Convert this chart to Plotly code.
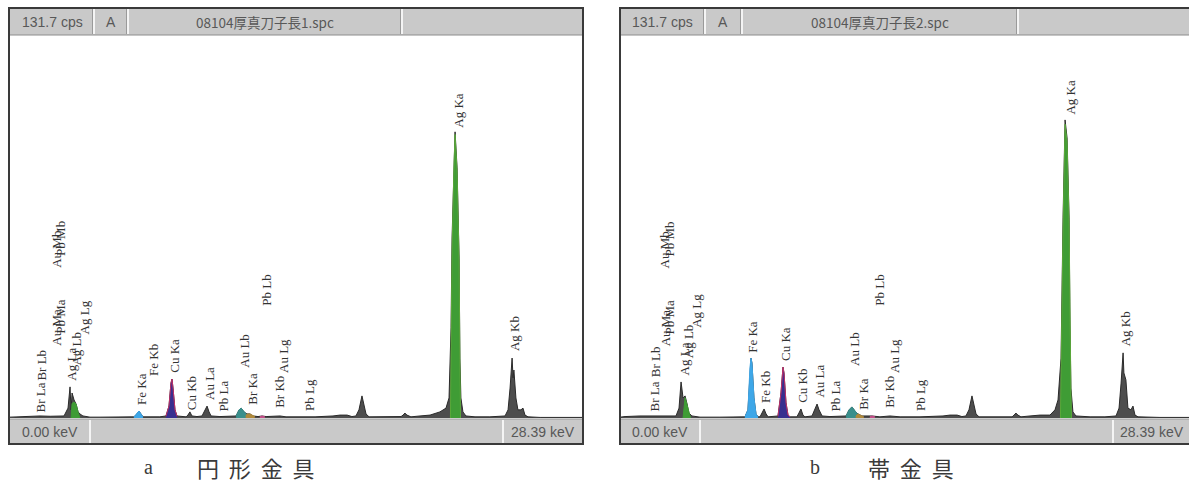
import plotly.graph_objects as go

W, H = 1189, 487

# ---------------- spectrum data (keV, cps) ----------------
energy_a = [0, 0.5, 0.99, 1.49, 1.99, 2.48, 2.68, 2.88, 2.98, 3.03, 3.08, 3.18, 3.28, 3.38, 3.47, 3.62,
            3.97, 4.47, 4.96, 5.46, 5.96, 6.15, 6.30, 6.40, 6.50, 6.60, 6.95, 7.44, 7.74, 7.89, 7.99,
            8.04, 8.09, 8.19, 8.29, 8.54, 8.74, 8.83, 8.93, 9.03, 9.28, 9.53, 9.68, 9.78, 9.88, 9.98,
            10.42, 10.92, 11.22, 11.37, 11.47, 11.61, 11.76, 11.91, 12.06, 12.31, 12.51, 12.71, 13.00,
            13.40, 13.70, 14.39, 15.14, 16.03, 16.38, 16.73, 16.97, 17.17, 17.32, 17.47, 17.57, 17.67,
            17.82, 18.36, 19.11, 19.41, 19.51, 19.60, 19.70, 19.90, 20.35, 20.85, 21.34, 21.64, 21.79,
            21.89, 21.94, 22.04, 22.09, 22.19, 22.29, 22.33, 22.38, 22.48, 22.63, 23.08, 23.82, 24.57,
            24.72, 24.82, 24.92, 24.97, 25.01, 25.11, 25.21, 25.36, 25.46, 25.56, 25.71, 26.31, 27.30, 28.39]
cps_a = [0.3, 0.5, 0.7, 0.7, 0.6, 0.7, 0.7, 3.4, 10.7, 2.8, 8.6, 6.2, 4.8, 2.1, 1.4, 0.7,
         0.3, 0.3, 0.3, 0.3, 0.4, 0.4, 1.4, 2.4, 1.4, 0.4, 0.4, 0.4, 0.7, 4.1, 12.0,
         13.4, 10.3, 2.8, 0.7, 0.4, 0.4, 1.0, 2.1, 0.7, 0.5, 0.7, 2.8, 4.1, 2.1, 0.7,
         0.5, 0.5, 0.7, 2.8, 3.4, 2.1, 1.4, 1.4, 0.7, 0.5, 0.7, 0.5, 0.5,
         0.7, 0.4, 0.4, 0.4, 0.7, 1.0, 1.0, 0.5, 0.7, 2.8, 7.6, 4.8, 1.4,
         0.4, 0.4, 0.4, 0.5, 1.0, 1.7, 1.0, 0.4, 0.7, 1.0, 2.1, 3.4, 6.9,
         31.0, 61.9, 89.4, 98.4, 86.0, 55.0, 20.6, 6.9, 2.1, 0.7, 0.4, 0.4, 0.7,
         2.8, 10.3, 20.6, 13.8, 16.5, 6.9, 2.8, 2.8, 3.4, 1.0, 0.4, 0.2, 0.2, 0.2]

energy_b = [0, 0.25, 0.99, 1.99, 2.48, 2.78, 2.93, 3.03, 3.13, 3.23, 3.33, 3.42, 3.57, 3.97, 4.96,
            5.96, 6.20, 6.35, 6.45, 6.50, 6.55, 6.65, 6.75, 6.85, 6.95, 7.05, 7.15, 7.25, 7.35, 7.84,
            7.99, 8.09, 8.14, 8.24, 8.34, 8.44, 8.78, 8.88, 8.98, 9.08, 9.18, 9.53, 9.68, 9.78, 9.88,
            10.03, 10.42, 10.92, 11.22, 11.37, 11.51, 11.66, 11.81, 12.01, 12.51, 12.90, 13.40, 13.90,
            14.89, 16.03, 16.38, 16.73, 16.97, 17.17, 17.32, 17.47, 17.57, 17.67, 17.82, 18.36, 19.11,
            19.46, 19.56, 19.65, 19.75, 19.90, 20.35, 20.85, 21.34, 21.59, 21.74, 21.89, 21.99, 22.09,
            22.19, 22.29, 22.33, 22.38, 22.48, 22.63, 23.33, 24.07, 24.62, 24.77, 24.87, 24.97, 25.01,
            25.11, 25.21, 25.36, 25.46, 25.56, 25.71, 26.80, 28.24]
cps_b = [0.3, 0.5, 0.7, 0.7, 0.7, 0.7, 3.4, 12.4, 6.9, 7.6, 4.8, 1.7, 0.7, 0.3, 0.3,
         0.3, 0.4, 2.8, 17.2, 20.6, 18.9, 6.9, 1.4, 0.4, 0.4, 1.7, 3.1, 1.4, 0.4, 0.7,
         8.6, 17.5, 15.5, 5.2, 1.0, 0.4, 0.4, 1.7, 3.1, 1.0, 0.4, 0.7, 3.4, 4.8, 2.8,
         0.7, 0.5, 0.5, 0.7, 2.8, 3.8, 2.4, 1.4, 0.7, 0.7, 0.4, 0.7, 0.4,
         0.4, 0.7, 1.0, 1.0, 0.5, 0.7, 2.8, 7.6, 4.8, 1.4, 0.4, 0.4, 0.4,
         0.4, 1.0, 1.7, 1.0, 0.4, 0.7, 1.0, 1.0, 2.8, 6.2, 20.6, 68.8, 102.5,
         96.3, 68.8, 34.4, 10.3, 2.1, 0.7, 0.4, 0.4, 0.7, 3.4, 12.0, 22.4, 15.5,
         13.1, 3.4, 2.8, 4.1, 1.0, 0.4, 0.2, 0.2]

# ---------------- coloured element peaks ----------------
agL_a_e = [3.03, 3.08, 3.18, 3.28, 3.38, 3.47]
agL_a_c = [0, 5.0, 5.5, 4.8, 2.0, 0]
feKa_a_e = [6.15, 6.30, 6.40, 6.50, 6.60]
feKa_a_c = [0.3, 1.4, 2.4, 1.4, 0.3]
cuKa_a_e = [7.74, 7.89, 7.99, 8.04, 8.09, 8.19, 8.29]
cuKa_a_c = [0.6, 4.1, 12.0, 13.4, 10.3, 2.8, 0.6]
auLb_a_e = [11.22, 11.37, 11.47, 11.61, 11.76]
auLb_a_c = [0.6, 2.8, 3.4, 2.1, 1.0]
brKa_a_e = [11.70, 11.76, 11.91, 12.06, 12.15]
brKa_a_c = [0.6, 1.3, 1.4, 0.7, 0.5]
pbLb_a_e = [12.40, 12.51, 12.65]
pbLb_a_c = [0.4, 0.7, 0.4]
agKa_a_e = [21.86, 21.89, 21.94, 22.04, 22.09, 22.19, 22.29, 22.33, 22.36]
agKa_a_c = [0, 28, 58, 88, 97.5, 85, 54, 20, 0]

agL_b_e = [3.13, 3.18, 3.23, 3.33, 3.42, 3.50]
agL_b_c = [0, 5.0, 7.0, 4.5, 1.5, 0]
feKa_b_e = [6.20, 6.35, 6.45, 6.50, 6.55, 6.65, 6.75, 6.85]
feKa_b_c = [0.3, 2.8, 17.2, 20.6, 18.9, 6.9, 1.4, 0.3]
cuKa_b_e = [7.84, 7.99, 8.09, 8.14, 8.24, 8.34, 8.44]
cuKa_b_c = [0.6, 8.6, 17.5, 15.5, 5.2, 1.0, 0.4]
auLb_b_e = [11.22, 11.37, 11.51, 11.66, 11.81]
auLb_b_c = [0.6, 2.8, 3.8, 2.4, 1.2]
brKa_b_e = [11.70, 11.81, 12.01, 12.10]
brKa_b_c = [0.6, 1.4, 0.7, 0.4]
pbLb_b_e = [12.40, 12.51, 12.65]
pbLb_b_c = [0.4, 0.7, 0.4]
agKa_b_e = [21.86, 21.89, 21.99, 22.09, 22.19, 22.29, 22.33, 22.38, 22.41]
agKa_b_c = [0, 18, 66, 101, 95, 67, 33, 9, 0]

# ---------------- peak labels ----------------
lab_a_text = ["Br La", "Br Lb", "Au Ma", "Pb Ma", "Au Mb", "Pb Mb", "Ag La", "Ag Lb", "Ag Lg",
              "Fe Ka", "Fe Kb", "Cu Ka", "Cu Kb", "Au La", "Pb La", "Au Lb", "Br Ka", "Pb Lb",
              "Br Kb", "Au Lg", "Pb Lg", "Ag Ka", "Ag Kb"]
lab_a_e = [1.44, 1.49, 2.20, 2.40, 2.20, 2.40, 2.98, 3.20, 3.60,
           6.45, 7.05, 8.08, 8.95, 9.80, 10.52, 11.50, 11.95, 12.61,
           13.30, 13.50, 14.74, 22.19, 24.95]
lab_a_c = [1.2, 12.0, 24.1, 28.2, 50.9, 55.0, 12.0, 17.5, 27.9,
           3.8, 13.8, 14.8, 2.1, 5.5, 1.7, 16.5, 3.8, 37.8,
           2.8, 14.8, 1.7, 99.0, 22.4]

lab_b_text = lab_a_text
lab_b_e = [1.59, 1.64, 2.13, 2.38, 2.13, 2.38, 3.08, 3.28, 3.72,
           6.50, 7.15, 8.09, 8.98, 9.78, 10.62, 11.56, 12.01, 12.76,
           13.30, 13.55, 14.79, 22.24, 25.01]
lab_b_c = [1.6, 13.2, 24.1, 28.2, 50.9, 55.0, 13.8, 19.9, 30.3,
           21.7, 4.5, 18.9, 4.5, 6.2, 1.7, 17.2, 2.1, 37.8,
           2.8, 14.8, 1.7, 103.5, 24.1]

file_a = "08104厚真刀子長1.spc"
file_b = "08104厚真刀子長2.spc"
full_scale = "131.7 cps"
e_min_label = "0.00 keV"
e_max_label = "28.39 keV"
NB = "\u00a0\u00a0"
caption_a = ("a", NB.join("円形金具"))
caption_b = ("b", NB.join("帯金具"))

# ---------------- figure ----------------
def px(x):
    return x / W

def py(y):
    return 1 - y / H

SPEC_FILL = "#4d4d4d"
SPEC_LINE = "#2b2b2b"
GREEN = "#3f9c35"
FEBLUE = "#3ea7e8"
CUBLUE = "#372f8f"
TEAL = "#3a8f8c"
BROWN = "#b08a3c"
PINK = "#c44f8a"

fig = go.Figure()

def add_panel(xa, ya, e, c, overlays):
    fig.add_trace(go.Scatter(x=e, y=c, mode="lines", fill="tozeroy", fillcolor=SPEC_FILL,
                             line=dict(color=SPEC_LINE, width=1), xaxis=xa, yaxis=ya,
                             hoverinfo="skip", showlegend=False))
    for ee, cc, col, lc in overlays:
        fig.add_trace(go.Scatter(x=ee, y=cc, mode="lines", fill="tozeroy", fillcolor=col,
                                 line=dict(color=lc, width=1), xaxis=xa, yaxis=ya,
                                 hoverinfo="skip", showlegend=False))

add_panel("x", "y", energy_a, cps_a, [
    (agL_a_e, agL_a_c, GREEN, GREEN),
    (feKa_a_e, feKa_a_c, FEBLUE, FEBLUE),
    (cuKa_a_e, cuKa_a_c, CUBLUE, "#c0306a"),
    (auLb_a_e, auLb_a_c, TEAL, TEAL),
    (brKa_a_e, brKa_a_c, BROWN, BROWN),
    (pbLb_a_e, pbLb_a_c, PINK, PINK),
    (agKa_a_e, agKa_a_c, GREEN, "#5aa83a"),
])
add_panel("x2", "y2", energy_b, cps_b, [
    (agL_b_e, agL_b_c, GREEN, GREEN),
    (feKa_b_e, feKa_b_c, FEBLUE, FEBLUE),
    (cuKa_b_e, cuKa_b_c, CUBLUE, "#c0306a"),
    (auLb_b_e, auLb_b_c, TEAL, TEAL),
    (brKa_b_e, brKa_b_c, BROWN, BROWN),
    (pbLb_b_e, pbLb_b_c, PINK, PINK),
    (agKa_b_e, agKa_b_c, GREEN, "#5aa83a"),
])

ydom = [py(418), py(35)]
ax_common = dict(visible=False, showgrid=False, zeroline=False, fixedrange=True)
fig.update_layout(
    width=W, height=H, autosize=False,
    margin=dict(l=0, r=0, t=0, b=0),
    paper_bgcolor="white", plot_bgcolor="white",
    xaxis=dict(domain=[px(10), px(582)], range=[0, 28.39], **ax_common),
    yaxis=dict(domain=ydom, range=[0, 131.7], **ax_common),
    xaxis2=dict(domain=[px(620), 1.0], range=[0, 28.39 * (1189 - 620) / 572], **ax_common),
    yaxis2=dict(domain=ydom, range=[0, 131.7], anchor="x2", **ax_common),
    showlegend=False,
)

shapes = []
annots = []
BAR = "#c9c9c9"
FRAME = "#3a3a3a"

def panel_chrome(x0, x1, hdiv, fdiv, texts):
    shapes.append(dict(type="rect", xref="paper", yref="paper", x0=px(x0), x1=px(x1),
                       y0=py(35), y1=py(8), fillcolor=BAR, line=dict(width=0), layer="above"))
    shapes.append(dict(type="rect", xref="paper", yref="paper", x0=px(x0), x1=px(x1),
                       y0=py(444), y1=py(419), fillcolor=BAR, line=dict(width=0), layer="above"))
    for d in hdiv:
        shapes.append(dict(type="line", xref="paper", yref="paper", x0=px(d), x1=px(d),
                           y0=py(34), y1=py(9), line=dict(color="#f4f4f4", width=2), layer="above"))
        shapes.append(dict(type="line", xref="paper", yref="paper", x0=px(d - 1.5), x1=px(d - 1.5),
                           y0=py(34), y1=py(9), line=dict(color="#9a9a9a", width=1), layer="above"))
    for d in fdiv:
        shapes.append(dict(type="line", xref="paper", yref="paper", x0=px(d), x1=px(d),
                           y0=py(443), y1=py(420), line=dict(color="#f4f4f4", width=2), layer="above"))
    shapes.append(dict(type="line", xref="paper", yref="paper", x0=px(x0), x1=px(x1),
                       y0=py(35), y1=py(35), line=dict(color="#8c8c8c", width=1), layer="above"))
    shapes.append(dict(type="line", xref="paper", yref="paper", x0=px(x0), x1=px(x1),
                       y0=py(419), y1=py(419), line=dict(color="#9a9a9a", width=1), layer="above"))
    shapes.append(dict(type="rect", xref="paper", yref="paper", x0=px(x0), x1=px(x1),
                       y0=py(444), y1=py(8), line=dict(color=FRAME, width=2),
                       fillcolor="rgba(0,0,0,0)", layer="above"))
    for (tx, cx, cy, fam, sz) in texts:
        annots.append(dict(text=tx, x=px(cx), y=py(cy), xref="paper", yref="paper",
                           showarrow=False, xanchor="center", yanchor="middle",
                           font=dict(family=fam, size=sz, color="#585858")))

SANS = "Liberation Sans, Arial, sans-serif"
CJK = "Noto Sans CJK JP, sans-serif"
panel_chrome(9, 583, [94, 128, 402], [90, 503], [
    (full_scale, 52, 22, SANS, 14), ("A", 111, 22, SANS, 14), (file_a, 265, 22, CJK, 13.5),
    (e_min_label, 50, 432, SANS, 14), (e_max_label, 543, 432, SANS, 14)])
panel_chrome(620, 1194, [705, 742, 1018], [700, 1113], [
    (full_scale, 662, 22, SANS, 14), ("A", 723, 22, SANS, 14), (file_b, 880, 22, CJK, 13.5),
    (e_min_label, 660, 432, SANS, 14), (e_max_label, 1152, 432, SANS, 14)])

SERIF = "Liberation Serif, DejaVu Serif, serif"
for xr, yr, txts, es, cs in [("x", "y", lab_a_text, lab_a_e, lab_a_c),
                             ("x2", "y2", lab_b_text, lab_b_e, lab_b_c)]:
    for t, e, c in zip(txts, es, cs):
        annots.append(dict(text=t, x=e, y=c, xref=xr, yref=yr, showarrow=False,
                           textangle=-90, xanchor="center", yanchor="bottom", xshift=2,
                           font=dict(family=SERIF, size=13, color="#333333")))

for (letter, words), lx, wx in [(caption_a, 148, 256), (caption_b, 815, 911)]:
    annots.append(dict(text=letter, x=px(lx), y=py(467), xref="paper", yref="paper",
                       showarrow=False, xanchor="center", yanchor="middle",
                       font=dict(family=SERIF, size=20, color="#3a3a3a")))
    annots.append(dict(text=words, x=px(wx), y=py(467), xref="paper", yref="paper",
                       showarrow=False, xanchor="center", yanchor="middle",
                       font=dict(family=CJK, size=22, color="#3a3a3a")))

fig.update_layout(shapes=shapes, annotations=annots)
fig.write_html("out.html", config={"displayModeBar": False},
               post_script="document.body.style.margin='0px';document.body.style.overflow='hidden';")
